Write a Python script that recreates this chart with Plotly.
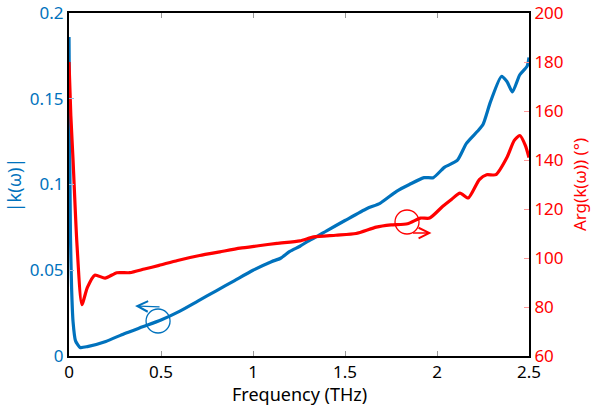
import plotly.graph_objects as go

# |k(omega)| series
freq_k = [0, 0.004, 0.008, 0.014, 0.022, 0.035, 0.06, 0.1, 0.2, 0.3, 0.4, 0.5, 0.6, 0.7, 0.8,
          0.9, 1.0, 1.1, 1.15, 1.2, 1.255, 1.3, 1.353, 1.4, 1.5, 1.62, 1.69, 1.78, 1.85,
          1.93, 1.98, 2.04, 2.11, 2.16, 2.22, 2.25, 2.29, 2.35, 2.38, 2.41, 2.45, 2.49, 2.5]
k_abs = [0.186, 0.12, 0.07, 0.04, 0.02, 0.009, 0.005, 0.0055, 0.0085, 0.013, 0.017, 0.021,
         0.026, 0.032, 0.038, 0.044, 0.050, 0.055, 0.057, 0.061, 0.064, 0.067, 0.070, 0.073,
         0.079, 0.086, 0.089, 0.096, 0.100, 0.104, 0.104, 0.110, 0.114, 0.124, 0.131, 0.135,
         0.148, 0.163, 0.160, 0.154, 0.164, 0.169, 0.174]

# Arg(k(omega)) series (degrees)
freq_a = [0, 0.01, 0.022, 0.043, 0.07, 0.1, 0.14, 0.196, 0.26, 0.33, 0.41, 0.49, 0.59, 0.71,
          0.82, 0.93, 1.03, 1.13, 1.255, 1.33, 1.45, 1.56, 1.67, 1.75, 1.84, 1.91, 1.96,
          2.03, 2.08, 2.125, 2.17, 2.23, 2.27, 2.32, 2.38, 2.42, 2.45, 2.48, 2.5]
k_arg = [180, 158, 140, 106, 81, 88, 93, 91.8, 94, 94, 95.5, 97, 99, 101, 102.5, 104, 105,
         106, 107, 108.6, 109.3, 110, 112.6, 113.5, 114, 116.3, 116.3, 121, 124, 126.5,
         124.5, 132, 134, 134, 141, 148, 150, 146, 141]

x_ticks = [0, 0.5, 1, 1.5, 2, 2.5]
x_labels = ["0", "0.5", "1", "1.5", "2", "2.5"]
y1_ticks = [0, 0.05, 0.1, 0.15, 0.2]
y1_labels = ["0", "0.05", "0.1", "0.15", "0.2"]
y2_ticks = [60, 80, 100, 120, 140, 160, 180, 200]

BLUE = "rgb(0,114,189)"
RED = "rgb(255,0,0)"
FONT = "Noto Sans"
TICK_SIZE = 17

fig = go.Figure()
fig.add_trace(go.Scatter(x=freq_k, y=k_abs, mode="lines", line_shape="spline",
                         line=dict(color=BLUE, width=3.2, smoothing=0.6), yaxis="y"))
fig.add_trace(go.Scatter(x=freq_a, y=k_arg, mode="lines", line_shape="spline",
                         line=dict(color=RED, width=3.2, smoothing=0.6), yaxis="y2"))

fig.update_layout(
    width=591, height=407,
    margin=dict(l=69, r=62, t=13, b=51, autoexpand=False),
    paper_bgcolor="white", plot_bgcolor="white",
    showlegend=False,
    font=dict(family=FONT, size=18),
    xaxis=dict(range=[0, 2.5], tickvals=x_ticks, ticktext=x_labels, automargin=False,
               ticks="inside", ticklen=5, tickcolor="#999",
               showline=True, linecolor="black", linewidth=2, mirror="ticks",
               showgrid=False, zeroline=False,
               tickfont=dict(color="black", size=TICK_SIZE, family=FONT)),
    yaxis=dict(range=[0, 0.2], tickvals=y1_ticks, ticktext=y1_labels, automargin=False,
               ticks="inside", ticklen=5, tickcolor="#99bbdd",
               showline=True, linecolor="black", linewidth=2,
               showgrid=False, zeroline=False,
               tickfont=dict(color=BLUE, size=TICK_SIZE, family=FONT)),
    yaxis2=dict(range=[60, 200], tickvals=y2_ticks, overlaying="y", side="right",
                automargin=False,
                ticks="inside", ticklen=5, tickcolor="#ff9999",
                showline=True, linecolor="black", linewidth=2,
                showgrid=False, zeroline=False,
                tickfont=dict(color=RED, size=TICK_SIZE, family=FONT)),
)

# axis titles
fig.add_annotation(text="Frequency (THz)", xref="paper", yref="paper", x=0.5, y=-0.111,
                   xanchor="center", yanchor="middle", showarrow=False,
                   font=dict(size=18, color="black"))
fig.add_annotation(text="|k(ω)|", xref="paper", yref="paper", x=-0.12, y=0.5,
                   xanchor="center", yanchor="middle", textangle=-90, showarrow=False,
                   font=dict(size=18, color=BLUE))
fig.add_annotation(text="Arg(k(ω)) (°)", xref="paper", yref="paper", x=1.11, y=0.5,
                   xanchor="center", yanchor="middle", textangle=-90, showarrow=False,
                   font=dict(size=17, color=RED))

# circle + arrow markers indicating which axis each curve belongs to
blue_circle = (0.484, 0.0204)
red_circle = (1.837, 114.7)
R = 12
fig.add_shape(type="circle", xref="x", yref="y", xsizemode="pixel", ysizemode="pixel",
              xanchor=blue_circle[0], yanchor=blue_circle[1],
              x0=-R, x1=R, y0=-R, y1=R, line=dict(color=BLUE, width=1.3))
fig.add_shape(type="circle", xref="x", yref="y2", xsizemode="pixel", ysizemode="pixel",
              xanchor=red_circle[0], yanchor=red_circle[1],
              x0=-R, x1=R, y0=-R, y1=R, line=dict(color=RED, width=1.3))

fig.add_annotation(x=0.359, y=0.0292, xref="x", yref="y", ax=26, ay=1,
                   text="", showarrow=True, arrowhead=5, arrowsize=1.6, arrowwidth=1.3,
                   arrowcolor=BLUE)
fig.add_annotation(x=1.97, y=110.2, xref="x", yref="y2", ax=-20, ay=0,
                   text="", showarrow=True, arrowhead=5, arrowsize=1.6, arrowwidth=1.3,
                   arrowcolor=RED)

fig.write_html("out.html", config={"displayModeBar": False},
               post_script="document.body.style.margin='0';")
